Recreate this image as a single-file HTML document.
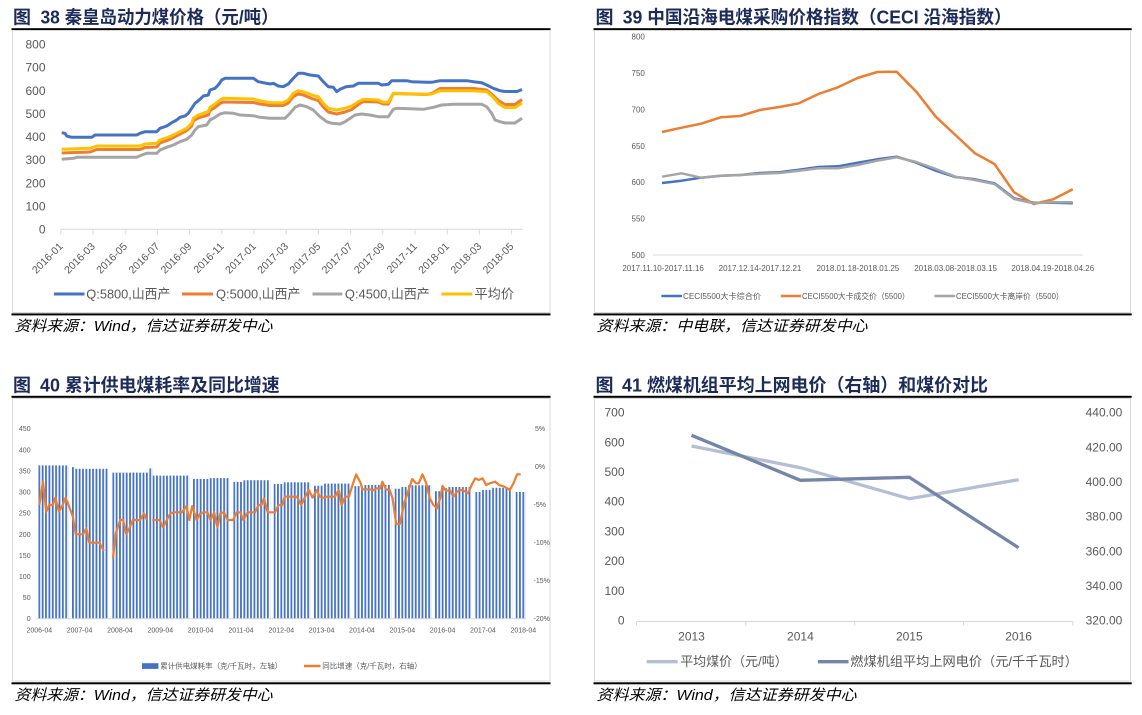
<!DOCTYPE html>
<html><head><meta charset="utf-8"><style>
html,body{margin:0;padding:0;background:#fff;}
svg{display:block;}
text{font-family:"Liberation Sans","Noto Sans CJK SC",sans-serif;}
.t{font-size:18px;font-weight:bold;fill:#1C2B5A;}
.src{font-size:15px;font-style:italic;fill:#000;}
.a1{font-size:12px;fill:#595959;}
.a2{font-size:8px;fill:#595959;}
.a3{font-size:7px;fill:#595959;}
.l1{font-size:13px;fill:#595959;}
</style></head><body>
<svg width="1142" height="715" viewBox="0 0 1142 715" xmlns="http://www.w3.org/2000/svg">
<defs>
<pattern id="bp" patternUnits="userSpaceOnUse" x="38.4" y="0" width="3.361" height="715"><rect x="0" y="0" width="1.8" height="715" fill="#4472C4"/></pattern>
</defs>
<rect width="1142" height="715" fill="#fff"/>

<!-- ============ PANEL 1 ============ -->
<text class="t" x="13" y="23.5">图</text>
<text class="t" x="40.5" y="23.5" textLength="238" lengthAdjust="spacingAndGlyphs">38 秦皇岛动力煤价格（元/吨）</text>
<rect x="11.5" y="28.2" width="539" height="2" fill="#000"/>
<rect x="12.5" y="30.5" width="537.5" height="282" fill="none" stroke="#D9D9D9" stroke-width="1"/>
<rect x="11.5" y="313.4" width="539" height="2" fill="#000"/>
<text class="src" x="14.5" y="331" textLength="258" lengthAdjust="spacingAndGlyphs">资料来源：Wind，信达证券研发中心</text>

<g class="a1" text-anchor="end">
<text x="45.5" y="48.6">800</text><text x="45.5" y="71.7">700</text><text x="45.5" y="94.9">600</text>
<text x="45.5" y="118">500</text><text x="45.5" y="141.1">400</text><text x="45.5" y="164.2">300</text>
<text x="45.5" y="187.4">200</text><text x="45.5" y="210.5">100</text><text x="45.5" y="233.6">0</text>
</g>
<line x1="60.8" y1="229.3" x2="522.6" y2="229.3" stroke="#D9D9D9" stroke-width="1"/>
<g stroke="#D9D9D9" stroke-width="1">
<line x1="60.8" y1="229.3" x2="60.8" y2="234.5"/><line x1="93" y1="229.3" x2="93" y2="234.5"/><line x1="125.2" y1="229.3" x2="125.2" y2="234.5"/><line x1="157.4" y1="229.3" x2="157.4" y2="234.5"/><line x1="189.6" y1="229.3" x2="189.6" y2="234.5"/><line x1="221.8" y1="229.3" x2="221.8" y2="234.5"/><line x1="254" y1="229.3" x2="254" y2="234.5"/><line x1="286.2" y1="229.3" x2="286.2" y2="234.5"/><line x1="318.4" y1="229.3" x2="318.4" y2="234.5"/><line x1="350.6" y1="229.3" x2="350.6" y2="234.5"/><line x1="382.8" y1="229.3" x2="382.8" y2="234.5"/><line x1="415" y1="229.3" x2="415" y2="234.5"/><line x1="447.2" y1="229.3" x2="447.2" y2="234.5"/><line x1="479.4" y1="229.3" x2="479.4" y2="234.5"/><line x1="511.6" y1="229.3" x2="511.6" y2="234.5"/>
</g>
<g style="font-size:10.5px;fill:#595959" text-anchor="end">
<text transform="translate(63.5,247) rotate(-45)">2016-01</text>
<text transform="translate(95.7,247) rotate(-45)">2016-03</text>
<text transform="translate(127.9,247) rotate(-45)">2016-05</text>
<text transform="translate(160.1,247) rotate(-45)">2016-07</text>
<text transform="translate(192.3,247) rotate(-45)">2016-09</text>
<text transform="translate(224.5,247) rotate(-45)">2016-11</text>
<text transform="translate(256.7,247) rotate(-45)">2017-01</text>
<text transform="translate(288.9,247) rotate(-45)">2017-03</text>
<text transform="translate(321.1,247) rotate(-45)">2017-05</text>
<text transform="translate(353.3,247) rotate(-45)">2017-07</text>
<text transform="translate(385.5,247) rotate(-45)">2017-09</text>
<text transform="translate(417.7,247) rotate(-45)">2017-11</text>
<text transform="translate(449.9,247) rotate(-45)">2018-01</text>
<text transform="translate(482.1,247) rotate(-45)">2018-03</text>
<text transform="translate(514.3,247) rotate(-45)">2018-05</text>
</g>
<g fill="none" stroke-width="3" stroke-linejoin="round">
<polyline stroke="#4472C4" points="61.7,132.7 65,133.3 66.7,136 71.7,137.3 91.7,137.3 95,135 136.7,135 140,133.3 145,131.7 156.7,131.7 160,128.3 166.7,126 171.7,122.7 176.7,120 180,117.3 185,116 188.3,113.3 191.7,108.3 195,103.3 200,99.3 203.3,96 208.3,95 210,90 215,88.3 218.3,85 221.7,80 225,78.3 253.3,78.3 258.3,81.7 263.3,82.7 270,84 273.3,83.3 278.3,86 283.3,86.7 288.3,84 293.3,78.3 298.3,73.3 303.3,73.3 310,75 318.3,76 323.3,81.7 328.3,86.7 333.3,87.3 336.7,91.7 340,89.3 346,86.7 353.3,86 358.3,83.3 378.3,83.3 381.7,85 388.3,84.3 391.7,80.7 406.7,80.7 411.7,81.7 426.7,82.3 431.7,82.3 440,80.7 466.7,80.7 473.3,81.7 481.7,82.7 486.7,85 493.3,88.3 500,90.7 505,91.5 517,91.5 522,89.5"/>
<polyline stroke="#A5A5A5" points="61.7,159.3 73.3,158.3 76.7,157.3 136.7,157.3 141.7,155 146.7,153.3 156.7,153.3 160,150 166.7,147.3 173.3,145 180,141.7 186.7,139.3 191.7,135 195,130 198.3,126.7 206.7,125 210,120 215,117.3 220,114 225,112.7 233.3,113.3 240,115 253.3,115.7 260,117.3 270,118.3 285,118.3 290,113.3 295,107.3 300,105 306.7,106.7 313.3,110 320,116.7 326.7,121.7 331.7,123.3 340,124 345,121.7 355,115 361.7,114 370,115 378.3,116.7 388.3,116.7 393.3,109.3 396.7,108.3 423.3,109.3 433.3,107.3 441.7,105 453.3,104.3 481.7,104.3 486.7,106.7 491.7,113.3 495,120 500,121.7 505,123 515,123 522,118.3"/>
<polyline stroke="#ED7D31" points="61.7,153 90,152 96.7,149.5 140,149.5 145,147.5 156.7,147 160,143 168.3,140 173.3,137.5 180,134 186.7,130.5 191.7,126 193.3,121 198.3,118 203.3,116.5 208.3,115 210,110.5 215,107.5 220,103.5 223.3,102 253.3,102.5 260,104 270,105.5 283.3,105.5 288.3,103 293.3,96.5 298.3,94 303.3,95 311.7,98.5 318.3,100.5 323.3,107 328.3,112 336.7,114 345,112 351.7,109.5 358.3,104.5 363.3,101.5 378.3,102 383.3,104 388.3,104 393.3,93.5 426.7,94.5 431.7,93.5 440,88.5 473.3,88.5 486.7,90 493.3,95.5 498.3,100.5 505,104.5 515,104.5 522,99.5"/>
<polyline stroke="#FFC000" points="61.7,149.3 90,148.3 96.7,146 140,146 145,144 156.7,143.3 160,140 168.3,137.3 173.3,135 180,131.7 186.7,128.3 191.7,123.3 193.3,118.3 198.3,115 203.3,113.3 208.3,111.7 210,107.3 215,104 220,100 223.3,98.3 253.3,99 260,100.7 270,102.7 283.3,102.7 288.3,100 293.3,93.3 298.3,90.7 303.3,91.7 311.7,95 318.3,96.7 323.3,103.3 328.3,108.3 336.7,110 345,108.3 351.7,106 358.3,101.7 363.3,99.3 378.3,100 383.3,102.3 388.3,102.3 393.3,93.3 426.7,94.3 431.7,94 440,90.7 473.3,90.7 486.7,91.7 493.3,97.3 498.3,103.3 505,107.5 515,107.5 522,103"/>
</g>
<g stroke-width="3">
<line x1="53.9" y1="294" x2="84.5" y2="294" stroke="#4472C4"/>
<line x1="182" y1="294" x2="213" y2="294" stroke="#ED7D31"/>
<line x1="312.5" y1="294" x2="342.3" y2="294" stroke="#A5A5A5"/>
<line x1="441.4" y1="294" x2="472.3" y2="294" stroke="#FFC000"/>
</g>
<text class="l1" x="86.3" y="298.5" textLength="84" lengthAdjust="spacingAndGlyphs">Q:5800,山西产</text>
<text class="l1" x="216" y="298.5" textLength="84.4" lengthAdjust="spacingAndGlyphs">Q:5000,山西产</text>
<text class="l1" x="344.9" y="298.5" textLength="84.8" lengthAdjust="spacingAndGlyphs">Q:4500,山西产</text>
<text class="l1" x="474.5" y="298.5" textLength="39.5" lengthAdjust="spacingAndGlyphs">平均价</text>

<!-- ============ PANEL 2 ============ -->
<text class="t" x="595.5" y="23.5">图</text>
<text class="t" x="622.7" y="23.5" textLength="389" lengthAdjust="spacingAndGlyphs">39 中国沿海电煤采购价格指数（CECI 沿海指数）</text>
<rect x="593.5" y="28.2" width="538.2" height="2" fill="#000"/>
<rect x="594.5" y="30.5" width="536" height="282" fill="none" stroke="#D9D9D9" stroke-width="1"/>
<rect x="593.5" y="313.4" width="538.2" height="2" fill="#000"/>
<text class="src" x="596.5" y="331" textLength="271" lengthAdjust="spacingAndGlyphs">资料来源：中电联，信达证券研发中心</text>

<g class="a2" text-anchor="end">
<text x="644.9" y="39.6">800</text><text x="644.9" y="76">750</text><text x="644.9" y="112.4">700</text>
<text x="644.9" y="148.8">650</text><text x="644.9" y="185.2">600</text><text x="644.9" y="221.5">550</text>
<text x="644.9" y="257.9">500</text>
</g>
<line x1="652.9" y1="255" x2="1082.6" y2="255" stroke="#D9D9D9" stroke-width="1"/>
<g class="a2" text-anchor="middle">
<text x="663.1" y="271">2017.11.10-2017.11.16</text>
<text x="760" y="271">2017.12.14-2017.12.21</text>
<text x="857.9" y="271">2018.01.18-2018.01.25</text>
<text x="955.6" y="271">2018.03.08-2018.03.15</text>
<text x="1052.8" y="271">2018.04.19-2018.04.26</text>
</g>
<g fill="none" stroke-width="2.5" stroke-linejoin="round">
<polyline stroke="#4472C4" points="662,183 681.6,180.7 701.1,177.7 720.7,175.7 740.2,175 759.8,173 779.4,172.3 798.9,169.7 818.5,167 838,166.3 857.6,162.7 877.2,159.3 896.7,156.7 916.3,162.7 935.8,170.7 955.4,177 975,179.3 994.5,183.3 1014.1,198.3 1033.6,202.7 1053.2,202.7 1072.8,203.3"/>
<polyline stroke="#ED7D31" points="662,132 681.6,127.7 701.1,123.7 720.7,117.3 740.2,116 759.8,110 779.4,107 798.9,103.3 818.5,94 838,87.3 857.6,78 877.2,72 896.7,71.7 916.3,91.7 935.8,116.7 955.4,135 975,153.3 994.5,164 1014.1,192.3 1033.6,204 1053.2,199.3 1072.8,189.3"/>
<polyline stroke="#A5A5A5" points="662,176.7 681.6,173.3 701.1,177.7 720.7,175.7 740.2,175 759.8,173.7 779.4,173 798.9,170.7 818.5,168.3 838,168.3 857.6,165 877.2,160.7 896.7,157.3 916.3,162 935.8,169 955.4,176.7 975,180 994.5,184 1014.1,199 1033.6,203.3 1053.2,202.3 1072.8,202.3"/>
</g>
<g stroke-width="2.5">
<line x1="661.3" y1="296" x2="682" y2="296" stroke="#4472C4"/>
<line x1="780.8" y1="296" x2="801.2" y2="296" stroke="#ED7D31"/>
<line x1="934.4" y1="296" x2="955.2" y2="296" stroke="#A5A5A5"/>
</g>
<text class="a2" x="683" y="299" textLength="78" lengthAdjust="spacingAndGlyphs">CECI5500大卡综合价</text>
<text class="a2" x="802" y="299" textLength="107.7" lengthAdjust="spacingAndGlyphs">CECI5500大卡成交价（5500）</text>
<text class="a2" x="956" y="299" textLength="107.7" lengthAdjust="spacingAndGlyphs">CECI5500大卡离岸价（5500）</text>

<!-- ============ PANEL 3 ============ -->
<text class="t" x="13" y="391.5">图</text>
<text class="t" x="40" y="391.5" textLength="239.7" lengthAdjust="spacingAndGlyphs">40 累计供电煤耗率及同比增速</text>
<rect x="11.5" y="395.8" width="539" height="2" fill="#000"/>
<rect x="12.5" y="398.5" width="537.5" height="282.5" fill="none" stroke="#D9D9D9" stroke-width="1"/>
<rect x="11.5" y="682.3" width="539" height="2" fill="#000"/>
<text class="src" x="14.5" y="700" textLength="258" lengthAdjust="spacingAndGlyphs">资料来源：Wind，信达证券研发中心</text>

<g class="a3" text-anchor="end">
<text x="30.6" y="431.2">450</text><text x="30.6" y="452.3">400</text><text x="30.6" y="473.4">350</text>
<text x="30.6" y="494.5">300</text><text x="30.6" y="515.6">250</text><text x="30.6" y="536.8">200</text>
<text x="30.6" y="557.9">150</text><text x="30.6" y="579">100</text><text x="30.6" y="600.1">50</text>
<text x="30.6" y="621.2">0</text>
</g>
<g class="a3">
<text x="535" y="431.2">5%</text><text x="535" y="469.2">0%</text><text x="533.5" y="507.2">-5%</text>
<text x="533.5" y="545.2">-10%</text><text x="533.5" y="583.2">-15%</text><text x="533.5" y="621.2">-20%</text>
</g>
<!-- bars -->
<g fill="url(#bp)">
<rect x="38.4" y="465.4" width="30.25" height="153.3"/>
<rect x="72.01" y="467.1" width="3.36" height="151.6"/>
<rect x="75.37" y="468.8" width="33.61" height="149.9"/>
<rect x="112.34" y="472.6" width="36.97" height="146.1"/>
<rect x="149.31" y="468.4" width="3.36" height="150.3"/>
<rect x="152.67" y="475.6" width="36.97" height="143.1"/>
<rect x="193.01" y="478.9" width="16.8" height="139.8"/>
<rect x="209.81" y="478.1" width="20.17" height="140.6"/>
<rect x="233.34" y="481.9" width="10.08" height="136.8"/>
<rect x="243.42" y="480.2" width="26.89" height="138.5"/>
<rect x="273.67" y="484" width="10.08" height="134.7"/>
<rect x="283.75" y="482.3" width="26.89" height="136.4"/>
<rect x="314" y="485.7" width="10.09" height="133"/>
<rect x="324.09" y="483.6" width="26.88" height="135.1"/>
<rect x="354.33" y="486.1" width="10.09" height="132.6"/>
<rect x="364.42" y="484.9" width="26.89" height="133.8"/>
<rect x="394.67" y="488.7" width="6.72" height="130"/>
<rect x="401.39" y="487" width="6.72" height="131.7"/>
<rect x="408.11" y="485.3" width="23.53" height="133.4"/>
<rect x="435" y="491.2" width="6.72" height="127.5"/>
<rect x="441.72" y="488.2" width="6.72" height="130.5"/>
<rect x="448.44" y="487" width="23.53" height="131.7"/>
<rect x="475.33" y="492" width="6.72" height="126.7"/>
<rect x="482.05" y="489.9" width="10.09" height="128.8"/>
<rect x="492.14" y="487.8" width="20.16" height="130.9"/>
<rect x="515.66" y="492" width="10.09" height="126.7"/>
</g>
<line x1="36.4" y1="618.7" x2="526" y2="618.7" stroke="#D9D9D9" stroke-width="1"/>
<g class="a3" text-anchor="middle">
<text x="39.3" y="632.5">2006-04</text><text x="79.6" y="632.5">2007-04</text><text x="120" y="632.5">2008-04</text>
<text x="160.3" y="632.5">2009-04</text><text x="200.6" y="632.5">2010-04</text><text x="240.9" y="632.5">2011-04</text>
<text x="281.3" y="632.5">2012-04</text><text x="321.6" y="632.5">2013-04</text><text x="361.9" y="632.5">2014-04</text>
<text x="402.3" y="632.5">2015-04</text><text x="442.6" y="632.5">2016-04</text><text x="482.9" y="632.5">2017-04</text>
<text x="523.3" y="632.5">2018-04</text>
</g>
<g transform="translate(0,370) scale(0.36417,0.33333)" fill="none" stroke="#ED7D31" stroke-width="2.2" stroke-linejoin="round">
<polyline vector-effect="non-scaling-stroke" points="108,405 118,335 127,425 135,405 145,405 152,383 162,425 172,405 180,383 190,410 200,440 208,493 218,493 228,493 237,475 245,518 255,518 265,518 273,518 285,543"/>
<polyline vector-effect="non-scaling-stroke" points="310,565 318,490 330,450 338,450 347,493 355,475 365,450 375,450 385,450 395,430 403,450"/>
<polyline vector-effect="non-scaling-stroke" points="418,450 428,450 438,450 448,472 458,450 468,430 480,427 490,427 500,427 512,408 520,450 528,408 540,450 550,430 560,427 570,427 578,450 588,427 597,472 605,430 615,427 625,450 640,450 650,427 660,427 668,450 680,427 690,427 700,427 710,405 718,405 725,385 735,427 745,427 755,427 765,405 775,405 782,380 795,380 805,380 815,380 827,405 838,380 848,360 858,383 870,360 878,380 888,383 898,380 910,380 920,380 930,360 938,405 948,380 958,380 968,345 978,313 990,338 995,358 1005,358 1015,358 1025,360 1035,355 1045,355 1050,335 1060,358 1070,360 1078,385 1088,462 1098,462 1110,400 1122,360 1132,327 1142,340 1150,340 1160,313 1170,338 1180,385 1190,405 1200,415 1210,380 1215,348 1225,363 1235,360 1245,380 1255,365 1265,360 1275,363 1285,370 1295,345 1305,325 1315,330 1325,325 1335,345 1345,340 1360,335 1370,345 1385,350 1400,360 1410,340 1420,313 1430,313"/>
</g>
<rect x="142" y="663.2" width="16.4" height="5.7" fill="#4472C4"/>
<text style="font-size:7.5px;fill:#595959" x="160.2" y="668.6" textLength="122" lengthAdjust="spacingAndGlyphs">累计供电煤耗率（克/千瓦时，左轴）</text>
<line x1="304" y1="666" x2="320.5" y2="666" stroke="#ED7D31" stroke-width="2.5"/>
<text style="font-size:7.5px;fill:#595959" x="322.3" y="668.6" textLength="99.4" lengthAdjust="spacingAndGlyphs">同比增速（克/千瓦时，右轴）</text>

<!-- ============ PANEL 4 ============ -->
<text class="t" x="595.5" y="391.5">图</text>
<text class="t" x="622" y="391.5" textLength="366" lengthAdjust="spacingAndGlyphs">41 燃煤机组平均上网电价（右轴）和煤价对比</text>
<rect x="593.5" y="395.8" width="538.2" height="2" fill="#000"/>
<rect x="594.5" y="398.5" width="536" height="282.5" fill="none" stroke="#D9D9D9" stroke-width="1"/>
<rect x="593.5" y="682.3" width="538.2" height="2" fill="#000"/>
<text class="src" x="596.5" y="700" textLength="260" lengthAdjust="spacingAndGlyphs">资料来源：Wind，信达证券研发中心</text>

<g class="a1" text-anchor="end">
<text x="624.5" y="416.6">700</text><text x="624.5" y="446.3">600</text><text x="624.5" y="476">500</text>
<text x="624.5" y="505.7">400</text><text x="624.5" y="535.4">300</text><text x="624.5" y="565.1">200</text>
<text x="624.5" y="594.9">100</text><text x="624.5" y="624.6">0</text>
</g>
<g class="a1">
<text x="1085.6" y="416.6">440.00</text><text x="1085.6" y="451.3">420.00</text><text x="1085.6" y="485.9">400.00</text>
<text x="1085.6" y="520.6">380.00</text><text x="1085.6" y="555.3">360.00</text><text x="1085.6" y="589.9">340.00</text>
<text x="1085.6" y="624.6">320.00</text>
</g>
<line x1="636.5" y1="621.5" x2="1072.8" y2="621.5" stroke="#D9D9D9" stroke-width="1"/>
<g stroke="#D9D9D9" stroke-width="1">
<line x1="636.5" y1="621.5" x2="636.5" y2="625.5"/><line x1="745.7" y1="621.5" x2="745.7" y2="625.5"/><line x1="854.7" y1="621.5" x2="854.7" y2="625.5"/><line x1="963.6" y1="621.5" x2="963.6" y2="625.5"/><line x1="1072.8" y1="621.5" x2="1072.8" y2="625.5"/>
</g>
<g class="a1" text-anchor="middle">
<text x="691.5" y="640.3">2013</text><text x="800.4" y="640.3">2014</text><text x="909.3" y="640.3">2015</text><text x="1018.6" y="640.3">2016</text>
</g>
<polyline fill="none" stroke="#B4BFD5" stroke-width="3.3" stroke-linejoin="round" points="691.5,446 800.4,467.7 909.3,498.7 1018.6,479.7"/>
<polyline fill="none" stroke="#7385A8" stroke-width="3.3" stroke-linejoin="round" points="691.5,435.3 800.4,480.3 909.3,477.3 1018.6,547.7"/>
<line x1="646.7" y1="661.7" x2="677.7" y2="661.7" stroke="#B4BFD5" stroke-width="3.3"/>
<text class="l1" x="680.2" y="666.2" textLength="107.5" lengthAdjust="spacingAndGlyphs">平均煤价（元/吨）</text>
<line x1="817.9" y1="661.7" x2="848.5" y2="661.7" stroke="#7385A8" stroke-width="3.3"/>
<text class="l1" x="850.3" y="666.2" textLength="227.6" lengthAdjust="spacingAndGlyphs">燃煤机组平均上网电价（元/千千瓦时）</text>
</svg>
</body></html>
